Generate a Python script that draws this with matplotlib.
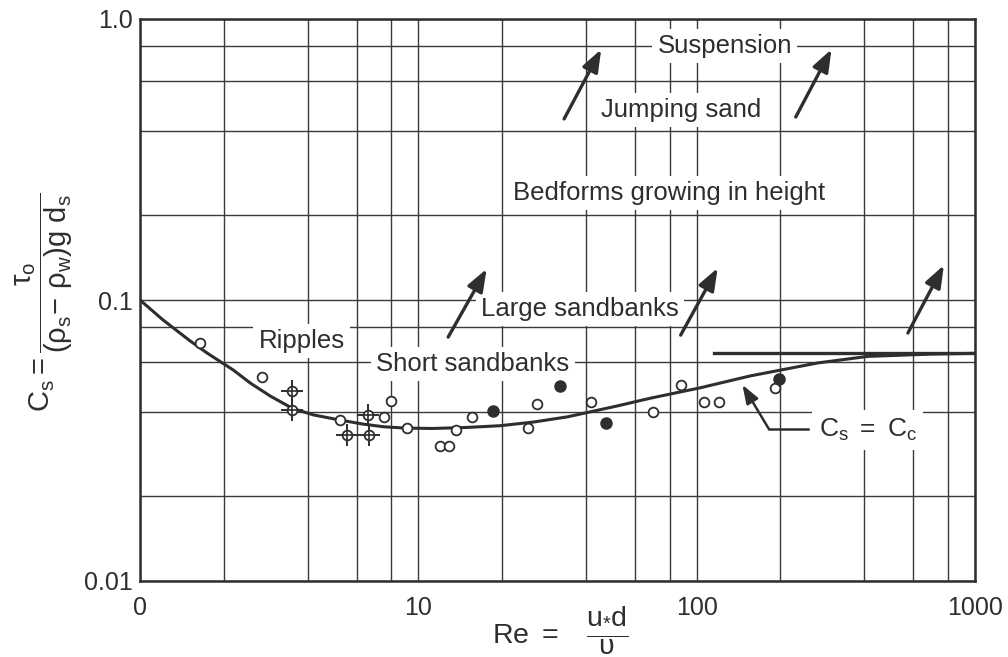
import matplotlib
matplotlib.use('Agg')
import matplotlib.pyplot as plt
from matplotlib.ticker import LogLocator, FixedLocator, NullFormatter

plt.rcParams['font.family'] = ['Liberation Sans', 'DejaVu Sans']
plt.rcParams['mathtext.fontset'] = 'custom'
plt.rcParams['mathtext.rm'] = 'Liberation Sans'
plt.rcParams['mathtext.it'] = 'Liberation Sans:italic'
plt.rcParams['mathtext.bf'] = 'Liberation Sans:bold'

INK = '#2e2e2e'
GRID = '#3a3a3a'

# threshold curve C_s(Re)
curve_re = [1.0, 1.21, 1.5, 1.74, 2.16, 2.5, 2.94, 3.52, 4.2, 5.15, 6.3, 7.48,
            9.0, 11.3, 15.0, 19.7, 26.0, 34.4, 52, 68, 103, 156, 272, 412, 700, 1000]
curve_cs = [0.100, 0.0849, 0.0720, 0.0648, 0.0564, 0.0505, 0.0455, 0.0412, 0.0390,
            0.0375, 0.0362, 0.0354, 0.0350, 0.0349, 0.0352, 0.0357, 0.0368, 0.0384,
            0.0420, 0.0447, 0.0487, 0.0537, 0.0597, 0.0630, 0.0642, 0.0646]

# C_c plateau
plateau_re = [115, 1000]
plateau_cs = [0.0646, 0.0646]

open_re = [1.64, 2.75, 5.24, 7.55, 8.0, 9.13, 12.0, 12.9, 13.7, 15.6, 24.7, 26.6,
           41.6, 69.5, 87.5, 106, 120, 191]
open_cs = [0.0703, 0.0532, 0.0373, 0.0384, 0.0437, 0.0350, 0.0302, 0.0302, 0.0345,
           0.0384, 0.0350, 0.0426, 0.0433, 0.0399, 0.0498, 0.0433, 0.0433, 0.0486]

filled_re = [18.6, 32.2, 47.1, 197]
filled_cs = [0.0403, 0.0494, 0.0365, 0.0524]

cross_re = [3.52, 3.52, 5.55, 6.61, 6.66]
cross_cs = [0.0475, 0.0406, 0.0331, 0.0390, 0.0331]

# regime labels: (text, Re, C_s)
regime_labels = [
    ('Suspension', 126, 0.80),
    ('Jumping sand', 88, 0.475),
    ('Bedforms growing in height', 79.5, 0.24),
    ('Large sandbanks', 38.1, 0.093),
    ('Ripples', 3.81, 0.0715),
    ('Short sandbanks', 15.7, 0.0592),
]

# arrows: (tail Re, tail C_s, head Re, head C_s)
regime_arrows = [
    (33.4, 0.441, 45.4, 0.78),
    (227, 0.448, 305, 0.78),
    (12.8, 0.0738, 17.6, 0.129),
    (87.6, 0.075, 119, 0.130),
    (574, 0.0763, 773, 0.133),
]

x_ticks = [1, 10, 100, 1000]
x_tick_labels = ['0', '10', '100', '1000']
y_ticks = [0.01, 0.1, 1.0]
y_tick_labels = ['0.01', '0.1', '1.0']

fig = plt.figure(figsize=(10.08, 6.57), dpi=100)
ax = fig.add_axes([140 / 1008, 1 - 581 / 657, 835 / 1008, 562 / 657])
ax.set_xscale('log')
ax.set_yscale('log')
ax.set_xlim(1, 1000)
ax.set_ylim(0.01, 1.0)

ax.xaxis.set_major_locator(FixedLocator(x_ticks))
ax.set_xticklabels(x_tick_labels)
ax.xaxis.set_minor_locator(LogLocator(base=10, subs=[2, 4, 6, 8]))
ax.xaxis.set_minor_formatter(NullFormatter())
ax.yaxis.set_major_locator(FixedLocator(y_ticks))
ax.set_yticklabels(y_tick_labels)
ax.yaxis.set_minor_locator(LogLocator(base=10, subs=[2, 4, 6, 8]))
ax.yaxis.set_minor_formatter(NullFormatter())

ax.tick_params(which='both', length=0, labelsize=18, colors=INK)
ax.tick_params(axis='x', pad=11)
ax.tick_params(axis='y', pad=5)
ax.set_axisbelow(True)
ax.grid(True, which='both', color=GRID, lw=1.0)
for spine in ax.spines.values():
    spine.set_linewidth(1.8)
    spine.set_color(INK)

ax.plot(curve_re, curve_cs, color=INK, lw=2.2, zorder=4)
ax.plot(plateau_re, plateau_cs, color=INK, lw=2.4, zorder=4)

ax.plot(open_re, open_cs, 'o', ms=7, mfc='white', mec=INK, mew=1.3, zorder=5)
ax.plot(filled_re, filled_cs, 'o', ms=8, mfc=INK, mec=INK, zorder=5)
ax.plot(cross_re, cross_cs, '+', ms=16, mec=INK, mew=1.4, zorder=5)
ax.plot(cross_re, cross_cs, 'o', ms=7, mfc='white', mec=INK, mew=1.3, zorder=6)
ax.plot(cross_re, cross_cs, '+', ms=7, mec=INK, mew=1.2, zorder=7)

for label, re, cs in regime_labels:
    ax.text(re, cs, label, fontsize=18.5, color=INK, ha='center', va='center',
            zorder=3, bbox=dict(boxstyle='square,pad=0.2', fc='white', ec='none'))

for x0, y0, x1, y1 in regime_arrows:
    ax.annotate('', xy=(x1, y1), xytext=(x0, y0), zorder=4,
                arrowprops=dict(arrowstyle='-|>,head_length=0.75,head_width=0.28',
                                color=INK, lw=2.4, mutation_scale=18,
                                shrinkA=0, shrinkB=0))

# C_s = C_c label with elbow leader
ax.text(412, 0.0345, r'$\mathrm{C_s\ =\ C_c}$', fontsize=19, color=INK,
        ha='center', va='center', zorder=3,
        bbox=dict(boxstyle='square,pad=0.25', fc='white', ec='none'))
ax.plot([251, 181.6], [0.0348, 0.0348], color=INK, lw=1.8, zorder=4)
ax.annotate('', xy=(146, 0.0499), xytext=(181.6, 0.0348), zorder=4,
            arrowprops=dict(arrowstyle='-|>,head_length=0.7,head_width=0.25',
                            color=INK, lw=1.8, mutation_scale=16,
                            shrinkA=0, shrinkB=0))

ax.text(-0.115, 0.495,
        r'$\mathrm{C_s} = \dfrac{\mathrm{\tau_o}}{\mathrm{(\rho_s\!-\,\rho_w)g\ d_s}}$',
        transform=ax.transAxes, rotation=90, ha='center', va='center',
        fontsize=21, color=INK)
ax.text(0.503, -0.088, r'$\mathrm{Re}\ =\ \ \ \dfrac{\mathrm{u_{*}d}}{\mathrm{\upsilon}}$',
        transform=ax.transAxes, ha='center', va='center', fontsize=20.5, color=INK)

fig.savefig('out.png', dpi=100, facecolor='white')
